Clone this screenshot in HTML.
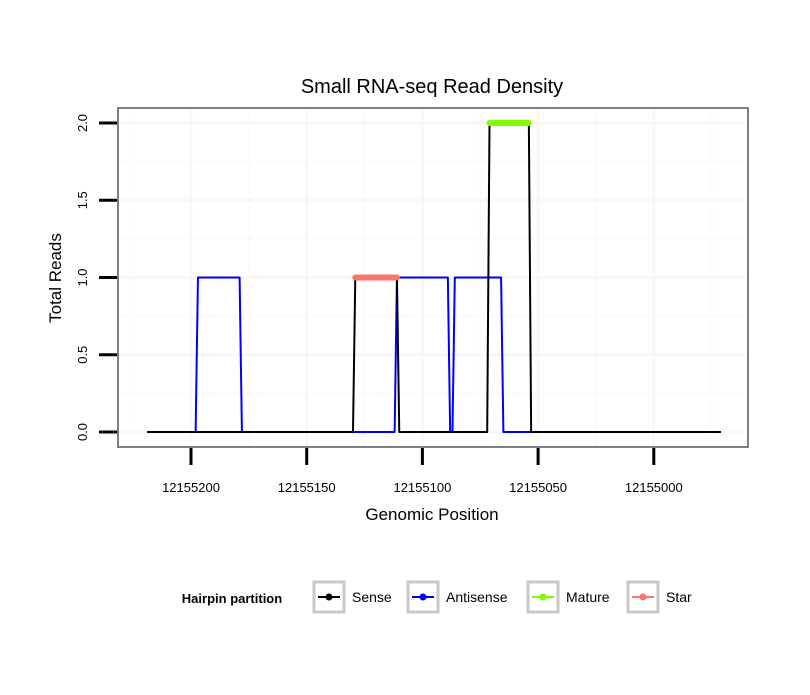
<!DOCTYPE html>
<html><head><meta charset="utf-8"><style>
body{margin:0;background:#fff;}
svg text{font-family:"Liberation Sans",sans-serif;}
</style></head><body>
<svg id="chart" width="810" height="690" xmlns="http://www.w3.org/2000/svg">
<rect width="810" height="690" fill="#fff"/>
<text x="432" y="93" font-size="20" text-anchor="middle">Small RNA-seq Read Density</text>
<g id="grid"></g>
<g id="series"></g>
<rect x="118" y="108" width="630" height="339" fill="none" stroke="#7f7f7f" stroke-width="2"/>
<g id="axes"></g>
<text x="432" y="520" font-size="17" text-anchor="middle">Genomic Position</text>
<text transform="translate(61,278) rotate(-90)" font-size="17" text-anchor="middle">Total Reads</text>
<g>
<text x="232" y="603" font-size="13" font-weight="bold" text-anchor="middle">Hairpin partition</text>
<g id="legend"></g>
</g>
</svg>
<script>
const xTicks=[12155200,12155150,12155100,12155050,12155000];
const yTicks=[0,0.5,1,1.5,2];
const senseX=[12155219,12155130,12155129,12155111,12155110,12155072,12155071,12155054,12155053,12154971];
const senseY=[0,0,1,1,0,0,2,2,0,0];
const antiX=[12155219,12155198,12155197,12155179,12155178,12155112,12155111,12155089,12155088,12155087,12155086,12155066,12155065,12154971];
const antiY=[0,0,1,1,0,0,1,1,0,0,1,1,0,0];
const starX=[12155129,12155111];const starY=[1,1];
const matureX=[12155071,12155054];const matureY=[2,2];
const legendLabels=["Sense","Antisense","Mature","Star"];
const legendColors=["#000000","#0000ff","#7fff00","#f8766d"];

const NS="http://www.w3.org/2000/svg";
const xs=v=>191+(12155200-v)*2.314;
const ys=v=>432-v*154.5;
function mk(t,a,p){const e=document.createElementNS(NS,t);for(const k in a)e.setAttribute(k,a[k]);p.appendChild(e);return e;}
const grid=document.getElementById('grid'),ser=document.getElementById('series'),ax=document.getElementById('axes'),lg=document.getElementById('legend');
const minorX=[12155225,12155175,12155125,12155075,12155025,12154975];
minorX.forEach(v=>{const g=mk('line',{x1:xs(v),x2:xs(v),y1:109,y2:446,stroke:'#fbfbfb','stroke-width':2},grid);
});
for(let i=0;i<yTicks.length-1;i++){const v=(yTicks[i]+yTicks[i+1])/2;const g=mk('line',{x1:119,x2:747,y1:ys(v),y2:ys(v),stroke:'#fbfbfb','stroke-width':2},grid);
}
xTicks.forEach(v=>{const g=mk('line',{x1:xs(v),x2:xs(v),y1:109,y2:446,stroke:'#f8f8f8','stroke-width':3},grid);

const t=mk('line',{x1:xs(v),x2:xs(v),y1:448,y2:465,stroke:'#000','stroke-width':3},ax);

const l=mk('text',{x:xs(v),y:492,'font-size':13,'text-anchor':'middle'},ax);l.textContent=v;
});
yTicks.forEach(v=>{const g=mk('line',{x1:119,x2:747,y1:ys(v),y2:ys(v),stroke:'#f8f8f8','stroke-width':3},grid);

const t=mk('line',{x1:99,x2:117,y1:ys(v),y2:ys(v),stroke:'#000','stroke-width':3},ax);

const l=mk('text',{transform:`translate(87,${ys(v)}) rotate(-90)`,'font-size':13,'text-anchor':'middle'},ax);l.textContent=v.toFixed(1);
});
function line(X,Y,c,w,name){const p=mk('polyline',{points:X.map((x,i)=>xs(x)+','+ys(Y[i])).join(' '),fill:'none',stroke:c,'stroke-width':w,'stroke-linecap':w>3?'round':'butt','stroke-linejoin':'round'},ser);
}
line(antiX,antiY,'#0000ff',2,'antisense-line');
line(senseX,senseY,'#000000',2,'sense-line');
line(starX,starY,'#f8766d',6,'star-segment');
line(matureX,matureY,'#7fff00',6,'mature-segment');
const lx=[314,408,528,628];
legendLabels.forEach((s,i)=>{const x=lx[i];
const b=mk('rect',{x:x,y:582,width:30,height:30,fill:'#fff',stroke:'#c8c8c8','stroke-width':3},lg);

mk('line',{x1:x+4,x2:x+26,y1:597,y2:597,stroke:legendColors[i],'stroke-width':2},lg);
mk('circle',{cx:x+15,cy:597,r:3.5,fill:legendColors[i]},lg);
const t=mk('text',{x:x+38,y:602,'font-size':14},lg);t.textContent=s;
});
</script>
</body></html>
